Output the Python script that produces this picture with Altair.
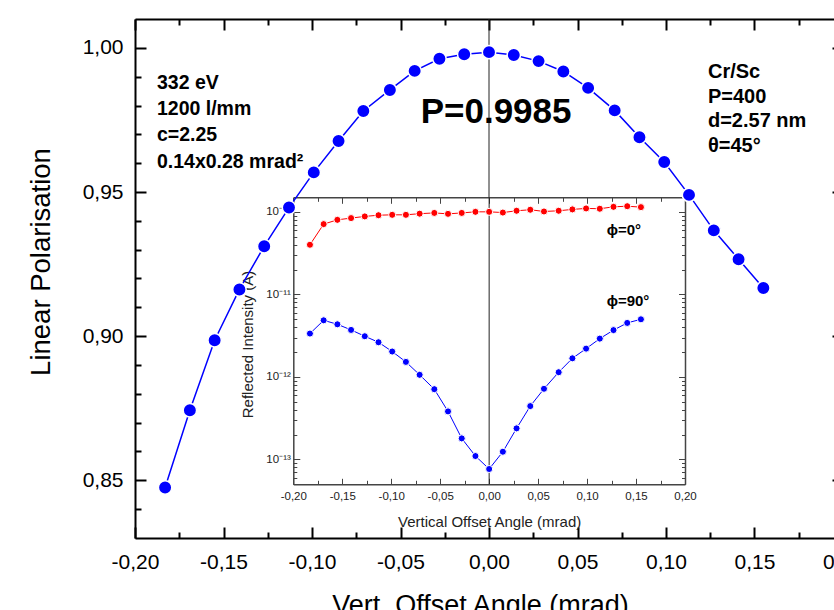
import altair as alt
import pandas as pd

# ---------------- data ----------------
angle = [-0.183, -0.169, -0.155, -0.141, -0.127, -0.113, -0.099, -0.085, -0.071,
         -0.056, -0.042, -0.028, -0.014, 0.000, 0.014, 0.028, 0.042, 0.056,
         0.071, 0.085, 0.099, 0.113, 0.127, 0.141, 0.155]
polarisation = [0.8475, 0.8743, 0.8986, 0.9162, 0.9312, 0.9446, 0.9568, 0.9677,
                0.9781, 0.9854, 0.9920, 0.9962, 0.9978, 0.9985, 0.9975, 0.9954,
                0.9918, 0.9861, 0.9783, 0.9690, 0.9604, 0.9490, 0.9367, 0.9267, 0.9167]
intensity_phi0 = [3.99e-11, 7.1e-11, 8.0e-11, 8.4e-11, 8.8e-11, 9.1e-11, 9.2e-11, 9.2e-11,
                  9.5e-11, 9.7e-11, 9.45e-11, 9.7e-11, 1.0e-10, 1.0e-10, 9.8e-11, 1.03e-10,
                  1.06e-10, 1.01e-10, 1.03e-10, 1.07e-10, 1.10e-10, 1.09e-10, 1.15e-10,
                  1.17e-10, 1.14e-10]
intensity_phi90 = [3.35e-12, 4.85e-12, 4.34e-12, 3.71e-12, 3.11e-12, 2.63e-12, 2.03e-12,
                   1.52e-12, 1.06e-12, 7.1e-13, 3.82e-13, 1.80e-13, 1.10e-13, 7.66e-14,
                   1.24e-13, 2.38e-13, 4.43e-13, 7.18e-13, 1.14e-12, 1.68e-12, 2.20e-12,
                   2.91e-12, 3.69e-12, 4.51e-12, 4.99e-12]

main_x_ticks = [-0.20, -0.15, -0.10, -0.05, 0.00, 0.05, 0.10, 0.15, 0.20]
main_x_minor = [-0.175, -0.125, -0.075, -0.025, 0.025, 0.075, 0.125, 0.175]
main_y_ticks = [0.85, 0.90, 0.95, 1.00]
main_y_minor = [0.84, 0.86, 0.87, 0.88, 0.89, 0.91, 0.92, 0.93, 0.94,
                0.96, 0.97, 0.98, 0.99]
inset_x_ticks = [-0.20, -0.15, -0.10, -0.05, 0.00, 0.05, 0.10, 0.15, 0.20]
inset_x_minor = [-0.175, -0.125, -0.075, -0.025, 0.025, 0.075, 0.125, 0.175]
inset_y_ticks = [1e-13, 1e-12, 1e-11, 1e-10]
inset_y_labels = ['10\u207b\u00b9\u00b3', '10\u207b\u00b9\u00b2', '10\u207b\u00b9\u00b9', '10\u207b\u00b9\u2070']
inset_y_minor = [6e-14, 7e-14, 8e-14, 9e-14,
                 2e-13, 3e-13, 4e-13, 5e-13, 6e-13, 7e-13, 8e-13, 9e-13,
                 2e-12, 3e-12, 4e-12, 5e-12, 6e-12, 7e-12, 8e-12, 9e-12,
                 2e-11, 3e-11, 4e-11, 5e-11, 6e-11, 7e-11, 8e-11, 9e-11]

# main zero line runs from the top of the main frame down to the top of the inset
zero_line_x = [0.0]
zero_line_top = [1.01]
zero_line_bottom = [0.9482]

left_notes = ['332 eV', '1200 l/mm', 'c=2.25', '0.14x0.28 mrad\u00b2']
left_notes_x = [-0.1876, -0.1876, -0.1876, -0.1876]
left_notes_y = [0.9878, 0.9788, 0.9698, 0.9604]
right_notes = ['Cr/Sc', 'P=400', 'd=2.57 nm', '\u03b8=45\u00b0']
right_notes_x = [0.1237, 0.1237, 0.1237, 0.1237]
right_notes_y = [0.9916, 0.9831, 0.9746, 0.9660]
peak_text = ['P=0.9985']
peak_x = [0.004]
peak_y = [0.9778]
phi_text = ['\u03d5=0\u00b0', '\u03d5=90\u00b0']
phi_x = [0.120, 0.120]
phi_y = [6.05e-11, 8.2e-12]

# ---------------- layout ----------------
FONT = 'Liberation Sans'
W, H = 699, 519
MX = alt.Scale(domain=[-0.2, 0.2], range=[0, 708], nice=False, zero=False)
MY = alt.Scale(domain=[0.83, 1.01], range=[H, 0], nice=False, zero=False)
IX = alt.Scale(domain=[-0.2, 0.2], range=[158.3, 550], nice=False, zero=False)
IY = alt.Scale(type='log', domain=[5e-14, 1.5e-10], range=[465.3, 178.3], nice=False)

comma_expr = "replace(replace(format(datum.value, '.2f'), '.', ','), '\u2212', '-')"
sup_expr = ""
for v, lab in zip(inset_y_ticks[:-1], inset_y_labels[:-1]):
    sup_expr += f"datum.value < {v * 3} ? '{lab}' : "
sup_expr += f"'{inset_y_labels[-1]}'"

df_main = pd.DataFrame({'angle': angle, 'pol': polarisation})
df_inset = pd.DataFrame({'angle': angle, 'i0': intensity_phi0, 'i90': intensity_phi90})


def tick_axis(orient, offset, values, size, color, width, domain=False, dwidth=1):
    kw = dict(orient=orient, offset=offset, values=values, tickSize=size,
              tickColor=color, tickWidth=width, labels=False, domain=domain,
              grid=False, title=None)
    if domain:
        kw.update(domainColor=color, domainWidth=dwidth)
    return alt.Axis(**kw)


def axis_layer(df, xf, yf, xs, ys, xaxis, yaxis):
    return alt.Chart(df).mark_point(opacity=0).encode(
        x=alt.X(f'{xf}:Q', scale=xs, axis=xaxis),
        y=alt.Y(f'{yf}:Q', scale=ys, axis=yaxis))


layers = []

# ---- main axes ----
layers.append(axis_layer(
    df_main, 'angle', 'pol', MX, MY,
    alt.Axis(orient='bottom', values=main_x_ticks, labelExpr=comma_expr, ticks=False,
             tickSize=0, domain=True, domainColor='black', domainWidth=2, grid=False,
             labelFont=FONT, labelFontSize=21, labelColor='black', labelPadding=13,
             labelFlush=False, labelOverlap=False,
             title='Vert. Offset Angle (mrad)', titleFont=FONT, titleFontSize=27,
             titleFontWeight='normal', titleColor='black', titleX=345, titleY=75,
             titleBaseline='alphabetic'),
    alt.Axis(orient='left', values=main_y_ticks, labelExpr=comma_expr, ticks=False,
             tickSize=0, domain=True, domainColor='black', domainWidth=2, grid=False,
             labelFont=FONT, labelFontSize=21, labelColor='black', labelPadding=12,
             labelFlush=False, labelOverlap=False,
             title='Linear Polarisation', titleFont=FONT, titleFontSize=27.5,
             titleFontWeight='normal', titleColor='black', titleX=-94, titleY=242.5,
             titleAngle=270, titleBaseline='middle')))
layers.append(axis_layer(df_main, 'angle', 'pol', MX, MY,
                         tick_axis('top', -H, main_x_ticks, 11, 'black', 2),
                         tick_axis('right', -W, main_y_ticks, 11, 'black', 2)))
layers.append(axis_layer(df_main, 'angle', 'pol', MX, MY,
                         tick_axis('bottom', -H, main_x_ticks, 11, 'black', 2, True, 2),
                         tick_axis('left', -708, main_y_ticks, 11, 'black', 2, True, 2)))
layers.append(axis_layer(df_main, 'angle', 'pol', MX, MY,
                         tick_axis('top', -H, main_x_minor, 6, 'black', 2),
                         tick_axis('right', -W, main_y_minor, 6, 'black', 2)))
layers.append(axis_layer(df_main, 'angle', 'pol', MX, MY,
                         tick_axis('bottom', -H, main_x_minor, 6, 'black', 2),
                         tick_axis('left', -708, main_y_minor, 6, 'black', 2)))

# ---- inset axes ----
IC = '#444444'
layers.append(axis_layer(
    df_inset, 'angle', 'i0', IX, IY,
    alt.Axis(orient='bottom', offset=-53.7, values=inset_x_ticks, labelExpr=comma_expr,
             ticks=False, tickSize=0, domain=True, domainColor=IC, domainWidth=1.5,
             grid=False, labelFont=FONT, labelFontSize=11.5, labelColor='#222222',
             labelPadding=6.5, labelFlush=False, labelOverlap=False,
             title='Vertical Offset Angle (mrad)', titleFont=FONT, titleFontSize=15,
             titleFontWeight='normal', titleColor='#222222', titleY=42.4,
             titleBaseline='alphabetic'),
    alt.Axis(orient='left', offset=-158.3, values=inset_y_ticks, labelExpr=sup_expr,
             ticks=False, tickSize=0, domain=True, domainColor=IC, domainWidth=1.5,
             grid=False, labelFont=FONT, labelFontSize=11.5, labelColor='#222222',
             labelPadding=3, labelFlush=False, labelOverlap=False,
             title='Reflected Intensity (A)', titleFont=FONT, titleFontSize=15,
             titleFontWeight='normal', titleColor='#222222', titleX=-46, titleY=325,
             titleAngle=270, titleBaseline='middle')))
layers.append(axis_layer(df_inset, 'angle', 'i0', IX, IY,
                         tick_axis('top', -465.3, inset_x_ticks, 6, IC, 1),
                         tick_axis('right', 158.3 - W, inset_y_ticks, 6.5, IC, 1)))
layers.append(axis_layer(df_inset, 'angle', 'i0', IX, IY,
                         tick_axis('bottom', 178.3 - H, inset_x_ticks, 6, IC, 1, True, 1.5),
                         tick_axis('left', -550, inset_y_ticks, 6.5, IC, 1, True, 1.5)))
layers.append(axis_layer(df_inset, 'angle', 'i0', IX, IY,
                         tick_axis('top', -465.3, inset_x_minor, 4, IC, 1),
                         tick_axis('right', 158.3 - W, inset_y_minor, 3.5, IC, 1)))
layers.append(axis_layer(df_inset, 'angle', 'i0', IX, IY,
                         tick_axis('bottom', 178.3 - H, inset_x_minor, 4, IC, 1),
                         tick_axis('left', -550, inset_y_minor, 3.5, IC, 1)))

# ---- zero lines ----
layers.append(alt.Chart(pd.DataFrame({'z': zero_line_x, 'a': zero_line_top, 'b': zero_line_bottom})
                        ).mark_rule(color='#222222', strokeWidth=1).encode(
    x=alt.X('z:Q', scale=MX, axis=None),
    y=alt.Y('a:Q', scale=MY, axis=None), y2='b:Q'))
layers.append(alt.Chart(pd.DataFrame({'z': [0.0], 'a': [5e-14], 'b': [1.5e-10]})).mark_rule(
    color='#222222', strokeWidth=1).encode(
    x=alt.X('z:Q', scale=IX, axis=None),
    y=alt.Y('a:Q', scale=IY, axis=None), y2='b:Q'))

# ---- inset data ----
for field, col in (('i0', '#ff0000'), ('i90', '#0000ff')):
    layers.append(alt.Chart(df_inset).mark_line(color=col, strokeWidth=1).encode(
        x=alt.X('angle:Q', scale=IX, axis=None),
        y=alt.Y(f'{field}:Q', scale=IY, axis=None)))
    layers.append(alt.Chart(df_inset).mark_circle(size=50, color=col, opacity=1,
                                                  stroke='white', strokeWidth=1).encode(
        x=alt.X('angle:Q', scale=IX, axis=None),
        y=alt.Y(f'{field}:Q', scale=IY, axis=None)))

layers.append(alt.Chart(pd.DataFrame({'x': phi_x, 'y': phi_y, 't': phi_text})).mark_text(
    align='left', baseline='middle', font=FONT, fontWeight='bold', fontSize=15,
    color='black').encode(
    x=alt.X('x:Q', scale=IX, axis=None), y=alt.Y('y:Q', scale=IY, axis=None), text='t:N'))

# ---- main data ----
layers.append(alt.Chart(df_main).mark_line(color='#0000ff', strokeWidth=1.5).encode(
    x=alt.X('angle:Q', scale=MX, axis=None), y=alt.Y('pol:Q', scale=MY, axis=None)))
layers.append(alt.Chart(df_main).mark_circle(size=180, color='#0000ff', opacity=1,
                                             stroke='white', strokeWidth=1.5).encode(
    x=alt.X('angle:Q', scale=MX, axis=None), y=alt.Y('pol:Q', scale=MY, axis=None)))

# ---- annotations ----
for xs_, ys_, ts_, al, fs in ((left_notes_x, left_notes_y, left_notes, 'left', 19.5),
                              (right_notes_x, right_notes_y, right_notes, 'left', 20),
                              (peak_x, peak_y, peak_text, 'center', 35)):
    layers.append(alt.Chart(pd.DataFrame({'x': xs_, 'y': ys_, 't': ts_})).mark_text(
        align=al, baseline='middle', font=FONT, fontWeight='bold', fontSize=fs,
        color='black').encode(
        x=alt.X('x:Q', scale=MX, axis=None), y=alt.Y('y:Q', scale=MY, axis=None),
        text='t:N'))

chart = alt.layer(*layers).resolve_scale(
    x='independent', y='independent'
).resolve_axis(
    x='independent', y='independent'
).properties(
    width=W, height=H,
    padding={'left': 135, 'top': 19, 'right': 0, 'bottom': 72},
    autosize=alt.AutoSizeParams(type='none'),
    background='white'
).configure_view(strokeWidth=0)

chart.save("out.html", embed_options={"renderer": "svg", "actions": False})
